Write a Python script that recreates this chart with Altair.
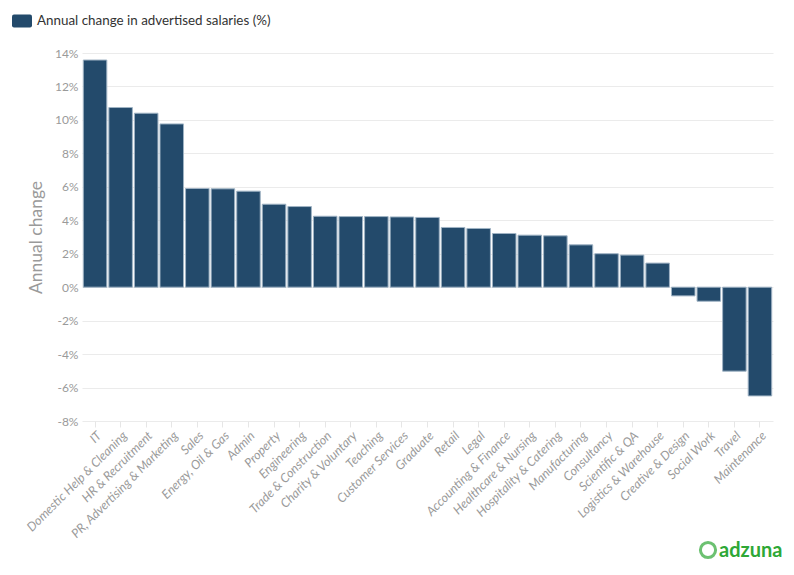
import altair as alt
import pandas as pd

categories = ["IT", "Domestic Help & Cleaning", "HR & Recruitment", "PR, Advertising & Marketing",
              "Sales", "Energy, Oil & Gas", "Admin", "Property", "Engineering",
              "Trade & Construction", "Charity & Voluntary", "Teaching", "Customer Services",
              "Graduate", "Retail", "Legal", "Accounting & Finance", "Healthcare & Nursing",
              "Hospitality & Catering", "Manufacturing", "Consultancy", "Scientific & QA",
              "Logistics & Warehouse", "Creative & Design", "Social Work", "Travel", "Maintenance"]
values = [13.58, 10.74, 10.4, 9.76, 5.9, 5.88, 5.74, 4.96, 4.82, 4.24, 4.22, 4.22, 4.2,
          4.17, 3.57, 3.51, 3.21, 3.11, 3.07, 2.53, 2.0, 1.92, 1.44, -0.52, -0.84, -5.02, -6.5]
series_name = "Annual change in advertised salaries (%)"
y_ticks = [-8, -6, -4, -2, 0, 2, 4, 6, 8, 10, 12, 14]

df = pd.DataFrame({"category": categories, "value": values, "series": series_name})

FONT = "Lato"
BAR = "#234a6b"

rounded = ("M-0.8,-0.65 L0.8,-0.65 Q1,-0.65 1,-0.45 L1,0.45 Q1,0.65 0.8,0.65 "
           "L-0.8,0.65 Q-1,0.65 -1,0.45 L-1,-0.45 Q-1,-0.65 -0.8,-0.65 Z")

bars = alt.Chart(df).mark_bar(stroke="#9fb3c4", strokeWidth=1).encode(
    x=alt.X("category:N", sort=categories, title=None,
            scale=alt.Scale(paddingInner=0.08, paddingOuter=0.05),
            axis=alt.Axis(labelAngle=-45, labelFont=FONT, labelFontSize=12.5,
                          labelFontStyle="italic", labelColor="#9a9a9a",
                          domain=False, ticks=True, tickColor="#e6e6e6", tickSize=6,
                          labelPadding=2, grid=False, offset=0, labelLimit=0)),
    y=alt.Y("value:Q", title="Annual change",
            scale=alt.Scale(domain=[-8, 14], nice=False),
            axis=alt.Axis(values=y_ticks, labelExpr="datum.value + '%'",
                          labelFont=FONT, labelFontSize=12, labelColor="#9a9a9a",
                          ticks=False, domain=False, gridColor="#ebebeb",
                          labelPadding=4, titleFont=FONT, titleFontSize=17.5,
                          titleFontWeight="normal", titleColor="#9a9a9a",
                          titlePadding=9)),
    color=alt.Color("series:N", scale=alt.Scale(range=[BAR]),
                    legend=alt.Legend(title=None, orient="none", legendX=-70, legendY=-42,
                                      symbolType=rounded, symbolSize=400,
                                      symbolStrokeWidth=0, labelFont=FONT,
                                      labelFontSize=13.4, labelColor="#333333",
                                      labelOffset=5, labelLimit=0)),
)

logo_text = alt.Chart(pd.DataFrame({"t": ["adzuna"]})).mark_text(
    font=FONT, fontSize=20, fontWeight="bold", color="#2ea836", align="left", baseline="alphabetic"
).encode(text="t:N", x=alt.value(637), y=alt.value(504))

logo_ring = alt.Chart(pd.DataFrame({"t": ["o"]})).mark_point(
    shape="circle", filled=False, stroke="#2ea836", strokeWidth=3, size=230
).encode(x=alt.value(626), y=alt.value(497))

chart = alt.layer(bars, logo_text, logo_ring).properties(
    width=691, height=368,
    autosize=alt.AutoSizeParams(type="none"),
    padding={"left": 74, "top": 45, "right": 13, "bottom": 146},
    background="white",
).configure_view(stroke=None)

chart.save("out.html", embed_options={"renderer": "svg", "actions": False})
